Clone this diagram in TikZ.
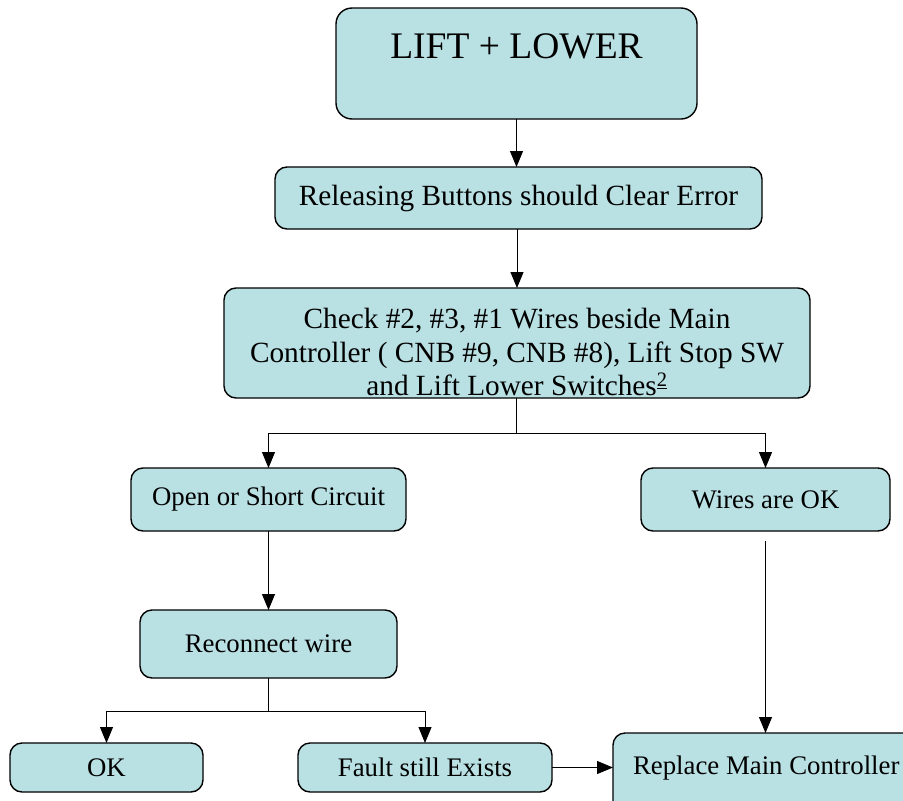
\documentclass[tikz,border=0pt]{standalone}
\usepackage{fontspec}
\setmainfont{Liberation Serif}
\usetikzlibrary{arrows.meta}
\definecolor{boxfill}{HTML}{B9E0E3}
\tikzset{
  flowbox/.style={draw=black, fill=boxfill, line width=1.4pt, rounded corners=12pt,
    inner sep=0pt, outer sep=0pt, align=center,
    font=\fontsize{26.8}{31}\selectfont},
  bigtext/.style={font=\fontsize{29.3}{33.5}\selectfont, inner sep=0pt, align=center},
  conn/.style={draw=black, line width=1pt, -{Triangle[length=16pt,width=13pt]}},
  plain/.style={draw=black, line width=1pt},
}
\begin{document}
\begin{tikzpicture}[x=1pt,y=-1pt]
\clip (0,0) rectangle (903,801);
\fill[white] (0,0) rectangle (903,801);
% boxes: centre = ((l+r)/2,(t+b)/2)
\node[flowbox, rounded corners=16pt, minimum width=361pt, minimum height=111pt] (top) at (516.5,63.5) {};
\node[font=\fontsize{37.5}{40}\selectfont, inner sep=0pt] (toptext) at (516.5,46) {LIFT + LOWER};
\node[flowbox, bigtext, minimum width=487pt, minimum height=62pt] (rel) at (518.5,198) {Releasing Buttons should Clear Error};
\node[flowbox, minimum width=586pt, minimum height=110pt] (check) at (517,343) {};
\node[bigtext] (checktext) at (517,352)
  {Check \#2, \#3, \#1 Wires beside Main\\Controller ( CNB \#9, CNB \#8), Lift Stop SW\\and Lift Lower Switches\textsuperscript{\underline{2}}};
\node[flowbox, minimum width=275pt, minimum height=63pt] (open) at (268.5,499.5) {Open or Short Circuit};
\node[flowbox, minimum width=249pt, minimum height=63pt] (wok) at (765.5,499.5) {Wires are OK};
\node[flowbox, minimum width=257pt, minimum height=68pt] (recon) at (268.5,644) {Reconnect wire};
\node[flowbox, minimum width=193pt, minimum height=49pt] (ok) at (106.5,767.5) {OK};
\node[flowbox, minimum width=254pt, minimum height=49pt] (fault) at (425,767.5) {Fault still Exists};
\node[flowbox, minimum width=302pt, minimum height=82pt] (repl) at (764,774) {};
\node[flowbox, draw=none, fill=none, anchor=west] (repltext) at (633,768) {Replace Main Controller};
% connectors
\coordinate (j1) at (516.5,433);
\coordinate (j2) at (268.5,711);
\coordinate (wstart) at (765.5,541);
\draw[conn] (top.south) -- (rel.north -| top.south);
\draw[conn] (rel.south -| check.north) -- (check.north);
\draw[plain] (check.south -| j1) -- (j1);
\draw[conn] (j1) -| (open.north);
\draw[conn] (j1) -| (wok.north);
\draw[conn] (open.south) -- (recon.north -| open.south);
\draw[plain] (recon.south -| j2) -- (j2);
\draw[conn] (j2) -| (ok.north);
\draw[conn] (j2) -| (fault.north);
\draw[conn] (fault.east) -- (fault.east -| repl.west);
\draw[conn] (wstart) -- (wstart |- repl.north);
\end{tikzpicture}
\end{document}
